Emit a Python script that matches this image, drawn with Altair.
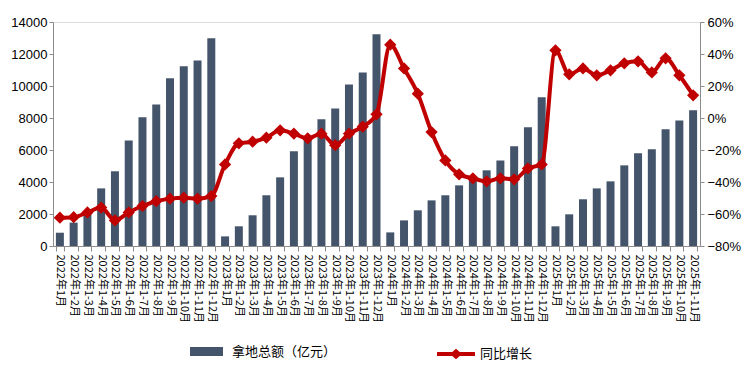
import altair as alt
import pandas as pd

years = ["2022", "2023", "2024", "2025"]
months_per_year = [12, 12, 12, 11]

amount = [
    830, 1460, 2100, 3600, 4670, 6600, 8040, 8850, 10480, 11230, 11600, 12980,
    600, 1230, 1920, 3170, 4290, 5920, 6750, 7920, 8600, 10100, 10850, 13230,
    850, 1600, 2230, 2850, 3170, 3790, 4250, 4730, 5350, 6230, 7420, 9290,
    1230, 1980, 2920, 3600, 4040, 5040, 5790, 6040, 7290, 7850, 8480,
]

yoy = [
    -62.3, -62.0, -59.0, -56.0, -64.0, -59.0, -55.0, -52.0, -50.4, -49.8, -50.4, -48.8,
    -29.0, -15.8, -14.8, -12.3, -7.7, -9.8, -12.7, -9.8, -17.0, -9.8, -5.4, 2.3,
    45.8, 31.0, 15.2, -8.8, -26.5, -35.2, -37.7, -39.6, -37.7, -38.3, -31.5, -29.0,
    42.3, 27.3, 31.0, 26.7, 29.8, 34.2, 35.4, 28.5, 37.3, 26.7, 14.2,
]

labels = []
for y, n in zip(years, months_per_year):
    for m in range(1, n + 1):
        labels.append(f"{y}年1月" if m == 1 else f"{y}年1-{m}月")

bar_name = "拿地总额（亿元）"
line_name = "同比增长"

df = pd.DataFrame({
    "month": labels,
    "amount": amount,
    "yoy": [v / 100 for v in yoy],
    "s1": bar_name,
    "s2": line_name,
})

BAR = "#44546A"
RED = "#C00000"
AXIS = "#8C8C8C"
NUMFONT = "Liberation Sans"
CJK = "Noto Sans CJK SC"

x = alt.X(
    "month:N", sort=labels, title=None,
    scale=alt.Scale(paddingInner=0.42, paddingOuter=0.21),
    axis=alt.Axis(labelAngle=90, labelAlign="left", labelBaseline="middle",
                  labelFont=CJK, labelFontSize=11, labelColor="#000000",
                  labelPadding=3, tickBand="extent", tickSize=5,
                  tickColor=AXIS, domainColor=AXIS, labelOverlap=False),
)

bars = alt.Chart(df).mark_bar().encode(
    x=x,
    y=alt.Y("amount:Q", title=None,
            scale=alt.Scale(domain=[0, 14000], nice=False),
            axis=alt.Axis(values=list(range(0, 14001, 2000)), grid=False, format="d",
                          labelFont=NUMFONT, labelFontSize=13, labelColor="#000000",
                          tickSize=4, labelPadding=2, tickColor=AXIS, domainColor=AXIS)),
    color=alt.Color("s1:N", scale=alt.Scale(domain=[bar_name], range=[BAR]),
                    legend=alt.Legend(title=None, orient="none", legendX=137, legendY=313,
                                      symbolType="M-1,-0.27L1,-0.27L1,0.27L-1,0.27Z",
                                      symbolSize=1089, symbolStrokeWidth=0,
                                      labelFont=CJK, labelFontSize=13, labelColor="#000000",
                                      labelOffset=9, padding=0)),
)

yr = alt.Y("yoy:Q", title=None,
           scale=alt.Scale(domain=[-0.8, 0.6], nice=False),
           axis=alt.Axis(orient="right", format=".0%", values=[-0.8, -0.6, -0.4, -0.2, 0, 0.2, 0.4, 0.6],
                         grid=False, labelFont=NUMFONT, labelFontSize=13, labelColor="#000000",
                         tickSize=4, labelPadding=3, tickColor=AXIS, domainColor=AXIS))

line = alt.Chart(df).mark_line(color=RED, strokeWidth=4, interpolate="monotone").encode(
    x=x, y=yr,
)

points = alt.Chart(df).mark_point(shape="diamond", filled=True, size=150, opacity=1).encode(
    x=x,
    y=yr,
    color=alt.Color("s2:N", scale=alt.Scale(domain=[line_name], range=[RED]),
                    legend=alt.Legend(title=None, orient="none", legendX=384, legendY=313,
                                      symbolType="M-1,-0.1L1,-0.1L1,0.1L-1,0.1Z M-0.32,0L0,-0.28L0.32,0L0,0.28Z",
                                      symbolSize=1444, symbolStrokeWidth=0,
                                      labelFont=CJK, labelFontSize=13, labelColor="#000000",
                                      labelOffset=5, padding=0)),
)

right = alt.layer(line, points)

chart = alt.layer(bars, right).resolve_scale(y="independent", color="independent").properties(
    width=647, height=224,
    autosize=alt.AutoSizeParams(type="none"),
    padding={"left": 45, "top": 14, "right": 43, "bottom": 120},
).configure_view(stroke=None).configure(background="#FFFFFF")

chart.save("out.html", embed_options={"renderer": "svg", "actions": False})
